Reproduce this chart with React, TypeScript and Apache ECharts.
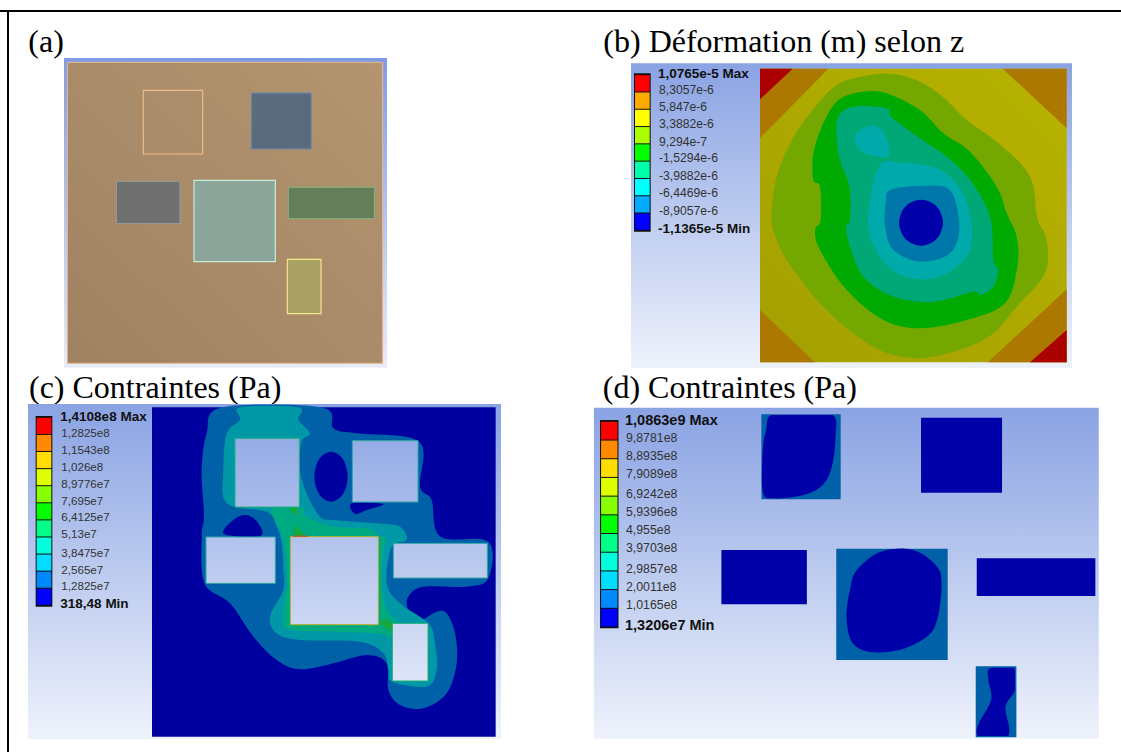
import React, { useEffect, useRef } from "react";
import * as echarts from "echarts";

// ---- texts ----
const titleA = "(a)";
const titleB = "(b) Déformation (m) selon z";
const titleC = "(c) Contraintes (Pa)";
const titleD = "(d) Contraintes (Pa)";

const labelsB = ["1,0765e-5 Max", "8,3057e-6", "5,847e-6", "3,3882e-6", "9,294e-7", "-1,5294e-6", "-3,9882e-6", "-6,4469e-6", "-8,9057e-6", "-1,1365e-5 Min"];
const labelsC = ["1,4108e8 Max", "1,2825e8", "1,1543e8", "1,026e8", "8,9776e7", "7,695e7", "6,4125e7", "5,13e7", "3,8475e7", "2,565e7", "1,2825e7", "318,48 Min"];
const labelsD = ["1,0863e9 Max", "9,8781e8", "8,8935e8", "7,9089e8", "6,9242e8", "5,9396e8", "4,955e8", "3,9703e8", "2,9857e8", "2,0011e8", "1,0165e8", "1,3206e7 Min"];

const labelYB = [190, 240, 292, 343, 395, 445, 497, 549, 602, 655];
const labelYC = [138, 188, 238, 288, 340, 390, 440, 490, 547, 597, 647, 700];
const labelYD = [150, 205, 259, 313, 371, 426, 481, 535, 597, 651, 706, 765];

const swatchB = ["#ff0000", "#ffaa00", "#ffff00", "#aaff00", "#00ff00", "#00ffaa", "#00ffff", "#00aaff", "#0000ff"];
const swatchCD = ["#ff0000", "#ff8a00", "#ffdd00", "#ddff00", "#88ff00", "#00ff00", "#00ff88", "#00ffdd", "#00ddff", "#0088ff", "#0000ff"];

// ---- contour outlines, in units of an enlarged view of each panel ----
type P = [number, number];
const rect = (x0: number, y0: number, x1: number, y1: number): P[] => [[x0, y0], [x1, y0], [x1, y1], [x0, y1]];
const ellipse = (cx: number, cy: number, rx: number, ry: number): P[] =>
  [0, 45, 90, 135, 180, 225, 270, 315].map((a) => [cx + rx * Math.cos((a * Math.PI) / 180), cy + ry * Math.sin((a * Math.PI) / 180)] as P);

// rounds an outline (closed Catmull-Rom curve through the read points)
const round = (pts: P[]): P[] => {
  const out: P[] = [];
  const n = pts.length;
  for (let i = 0; i < n; i++) {
    const [a, b, c, d] = [pts[(i - 1 + n) % n], pts[i], pts[(i + 1) % n], pts[(i + 2) % n]];
    for (let k = 0; k < 6; k++) {
      const t = k / 6;
      const f = (j: 0 | 1) =>
        0.5 * (2 * b[j] + (c[j] - a[j]) * t + (2 * a[j] - 5 * b[j] + 4 * c[j] - d[j]) * t * t + (3 * b[j] - a[j] - 3 * c[j] + d[j]) * t * t * t);
      out.push([f(0), f(1)]);
    }
  }
  return out;
};
const clampTo = (pts: P[], x0: number, y0: number, x1: number, y1: number): P[] =>
  pts.map(([x, y]) => [Math.min(x1, Math.max(x0, x)), Math.min(y1, Math.max(y0, y))] as P);

const bCornerOrange: P[][] = [
  [[480, 176], [685, 176], [480, 385]],
  [[1208, 176], [1400, 176], [1400, 355]],
  [[480, 900], [645, 1057], [480, 1057]],
  [[1400, 838], [1400, 1057], [1163, 1057]],
];
const bCornerRed: P[][] = [
  [[480, 176], [578, 176], [480, 268]],
  [[1400, 960], [1400, 1057], [1290, 1057]],
];
const bLightGreen: P[] = [[515, 600], [530, 500], [570, 400], [630, 310], [710, 225], [800, 197], [880, 192], [960, 215], [1030, 262], [1100, 330], [1190, 395], [1270, 470], [1300, 530], [1312, 625], [1340, 690], [1335, 790], [1250, 890], [1160, 985], [1000, 1040], [880, 1035], [780, 985], [660, 880], [560, 750], [520, 660]];
const bGreen: P[] = [[715, 270], [790, 245], [860, 250], [960, 300], [1030, 370], [1110, 425], [1190, 530], [1220, 610], [1250, 680], [1252, 770], [1215, 880], [1100, 930], [960, 955], [850, 930], [740, 840], [660, 720], [645, 660], [662, 630], [660, 530], [640, 510], [640, 430], [670, 340]];
const bTealGreen: P[] = [[715, 320], [760, 290], [860, 295], [875, 322], [960, 385], [1040, 440], [1110, 510], [1170, 620], [1180, 750], [1195, 780], [1180, 830], [1140, 855], [1120, 845], [1000, 875], [880, 860], [790, 800], [750, 710], [738, 650], [750, 630], [748, 530], [720, 450], [710, 380]];
const bTealSmall: P[] = [[770, 370], [810, 347], [850, 365], [868, 435], [820, 437], [780, 420], [765, 390]];
const bTeal: P[] = [[840, 465], [900, 458], [1010, 475], [1080, 535], [1115, 640], [1105, 730], [1040, 790], [960, 808], [870, 775], [810, 680], [808, 580]];
const bBlue: P[] = [[870, 540], [960, 528], [1050, 540], [1078, 650], [1050, 730], [960, 755], [880, 720], [855, 650], [857, 580]];

const cBand1: P[] = [[665, 112], [620, 190], [605, 300], [612, 440], [605, 495], [613, 640], [690, 700], [760, 800], [830, 870], [900, 898], [1000, 880], [1100, 855], [1160, 880], [1165, 960], [1200, 1005], [1270, 1015], [1340, 970], [1370, 880], [1365, 790], [1340, 730], [1310, 725], [1260, 750], [1225, 720], [1225, 680], [1270, 650], [1400, 650], [1465, 625], [1465, 515], [1320, 500], [1295, 390], [1260, 350], [1258, 215], [1070, 190], [1000, 175], [965, 112]];
const cIslands: P[][] = [
  ellipse(993, 320, 50, 75),
  [[672, 492], [700, 450], [740, 435], [775, 460], [780, 498]],
  [[1055, 400], [1150, 402], [1100, 420], [1065, 432]],
];
const cBand2: P[] = [[720, 112], [720, 150], [680, 190], [670, 300], [680, 400], [800, 425], [830, 470], [845, 520], [850, 600], [850, 660], [810, 740], [830, 790], [900, 810], [1080, 815], [1150, 850], [1165, 900], [1177, 935], [1280, 950], [1310, 900], [1305, 820], [1285, 760], [1200, 700], [1160, 640], [1175, 530], [1220, 510], [1200, 470], [1130, 460], [1000, 450], [960, 440], [920, 370], [900, 300], [905, 215], [930, 190], [895, 150], [895, 112]];
const cBand3: P[] = [[815, 415], [905, 413], [920, 440], [1000, 470], [1100, 475], [1135, 495], [1160, 510], [1150, 540], [1145, 640], [1160, 720], [1190, 755], [1177, 800], [1130, 790], [1000, 785], [880, 780], [850, 760], [855, 680], [862, 640], [855, 540], [840, 480]];
const cGreenSpots: P[][] = [
  [[868, 413], [895, 413], [885, 438]],
  [[880, 497], [888, 465], [915, 497]],
  [[1140, 760], [1155, 745], [1177, 762], [1177, 785]],
];
const cHoles: [number, number, number, number, string][] = [
  [705, 205, 898, 411, "#20b080"],
  [1057, 212, 1254, 396, "#30a8a8"],
  [618, 501, 826, 640, "#30a8a8"],
  [871, 500, 1135, 764, "#b8b020"],
  [1180, 520, 1462, 624, "#30a8a8"],
  [1177, 760, 1284, 933, "#20b070"],
];

const dInner1: P[] = [[545, 135], [635, 135], [725, 135], [733, 200], [722, 290], [695, 345], [640, 375], [550, 385], [520, 365], [520, 240], [530, 180]];
const dInner2: P[] = [[865, 545], [960, 540], [1030, 590], [1043, 650], [1030, 750], [1000, 800], [920, 840], [830, 845], [780, 815], [765, 740], [775, 660], [795, 600]];
const dInner3: P[] = [[1185, 895], [1255, 893], [1258, 960], [1230, 1010], [1238, 1098], [1150, 1098], [1152, 1060], [1188, 990], [1180, 930]];

type Item =
  | { pts: P[]; fill: any; stroke?: string; lw?: number }
  | { text: string; x: number; y: number; font: string; size: number; weight?: string; color?: string };

const vgrad = (a: string, b: string) => new echarts.graphic.LinearGradient(0, 0, 0, 1, [{ offset: 0, color: a }, { offset: 1, color: b }]);
const dgrad = (a: string, b: string) => new echarts.graphic.LinearGradient(0, 1, 1, 0, [{ offset: 0, color: a }, { offset: 1, color: b }]);

const hex = (c: number[]) => "#" + c.map((v) => Math.round(v).toString(16).padStart(2, "0")).join("");
const bgTop = [0x8a, 0xa3, 0xe3];
const bgBot = [0xee, 0xf2, 0xfb];
const bgAt = (t: number) => hex(bgTop.map((v, i) => v + (bgBot[i] - v) * t));

const serif = "Liberation Serif";
const sans = "Liberation Sans";
const titleSize = 32;

function legend(labels: string[], ys: number[], colors: string[], sx0: number, sx1: number, tx: number, size: number, boldSize: number): Item[] {
  const out: Item[] = [];
  const top = ys[0] + 4;
  const bot = ys[ys.length - 1] + 6;
  const h = (bot - top) / colors.length;
  out.push({ pts: rect(sx0 - 3, top - 4, sx1 + 3, bot + 4), fill: "#101010" });
  colors.forEach((c, i) => {
    out.push({ pts: rect(sx0, top + h * i + 1.5, sx1, top + h * (i + 1) - 1.5), fill: c });
  });
  labels.forEach((t, i) => {
    const strong = i === 0 || i === labels.length - 1;
    out.push({
      text: t,
      x: strong ? tx - 3 : tx,
      y: ys[i],
      font: sans,
      size: strong ? boldSize : size,
      weight: strong ? "bold" : "normal",
      color: strong ? "#111111" : "#333333",
    });
  });
  return out;
}

const itemsA: Item[] = [
  { text: titleA, x: 85, y: 124, font: serif, size: titleSize, color: "#000000" },
  { pts: rect(192, 174, 1161, 1103), fill: vgrad("#7f9be4", "#e8ecf8") },
  { pts: rect(202, 187, 1148, 1090), fill: dgrad("#a08263", "#b49570"), stroke: "#eabb90", lw: 1 },
  { pts: rect(430, 271, 608, 462), fill: "rgba(0,0,0,0)", stroke: "#ecbb88", lw: 1.2 },
  { pts: rect(754, 279, 934, 447), fill: "#5a6b7d", stroke: "#6a8bb0", lw: 1 },
  { pts: rect(349, 544, 540, 671), fill: "#707070", stroke: "#9a9f9f", lw: 1 },
  { pts: rect(582, 541, 826, 785), fill: "#8ca69b", stroke: "#c8ebdc", lw: 1.2 },
  { pts: rect(865, 562, 1123, 656), fill: "#637e58", stroke: "#80b67c", lw: 1 },
  { pts: rect(862, 778, 963, 941), fill: "#aaa165", stroke: "#f0e68c", lw: 1.2 },
];

const itemsB: Item[] = [
  { text: titleB, x: 10, y: 94, font: serif, size: titleSize, color: "#000000" },
  { pts: rect(93, 160, 1416, 1074), fill: vgrad("#8aa3e3", "#eef2fb") },
  { pts: rect(480, 176, 1400, 1057), fill: dgrad("#a39f00", "#b8b300") },
  ...bCornerOrange.map((pts) => ({ pts, fill: "#ad7800" })),
  ...bCornerRed.map((pts) => ({ pts, fill: "#aa0000" })),
  { pts: round(bLightGreen), fill: "#74a800" },
  { pts: round(bGreen), fill: "#00aa00" },
  { pts: round(bTealGreen), fill: "#00a877" },
  { pts: round(bTealSmall), fill: "#00aaaa" },
  { pts: round(bTeal), fill: "#00aaaa" },
  { pts: round(bBlue), fill: "#0077aa" },
  { pts: round(ellipse(963, 638, 66, 69)), fill: "#0000aa" },
  ...legend(labelsB, labelYB, swatchB, 105, 149, 177, 12.2, 13.5),
];

const itemsC: Item[] = [
  { text: titleC, x: 87, y: 52, font: serif, size: titleSize, color: "#000000" },
  { pts: rect(84, 102, 1503, 1108), fill: vgrad("#8aa3e3", "#eef2fb") },
  { pts: rect(456, 112, 1487, 1100), fill: "#0000a0" },
  { pts: round(cBand1), fill: "#0060a8" },
  ...cIslands.map((pts) => ({ pts: round(pts), fill: "#0000a0" })),
  { pts: round(cBand2), fill: "#0098a6" },
  { pts: round(cBand3), fill: "#00aa80" },
  ...cGreenSpots.map((pts) => ({ pts, fill: "#18a838" })),
  ...cHoles.map(([x0, y0, x1, y1, s]) => ({
    pts: rect(x0, y0, x1, y1),
    fill: vgrad(bgAt((y0 - 102) / 1006), bgAt((y1 - 102) / 1006)),
    stroke: s,
    lw: 1,
  })),
  { pts: rect(878, 497, 925, 500), fill: "#c84020" },
  ...legend(labelsC, labelYC, swatchCD, 110, 154, 184, 11.6, 13.5),
];

const itemsD: Item[] = [
  { text: titleD, x: 52, y: 52, font: serif, size: titleSize, color: "#000000" },
  { pts: rect(26, 113, 1503, 1106), fill: vgrad("#8aa3e3", "#eef2fb") },
  { pts: rect(983, 143, 1220, 368), fill: "#0000a8" },
  { pts: rect(399, 540, 649, 703), fill: "#0000a8" },
  { pts: rect(1146, 565, 1493, 678), fill: "#0000a8" },
  { pts: rect(516, 133, 748, 388), fill: "#0060a8" },
  { pts: clampTo(round(dInner1), 516, 135, 748, 386), fill: "#0000a8" },
  { pts: rect(735, 536, 1061, 870), fill: "#0060a8" },
  { pts: round(dInner2), fill: "#0000a8" },
  { pts: rect(1143, 889, 1262, 1102), fill: "#0060a8" },
  { pts: clampTo(round(dInner3), 1146, 893, 1258, 1098), fill: "#0000a8" },
  ...legend(labelsD, labelYD, swatchCD, 47, 95, 120, 12.3, 14.5),
];

const panels = [
  { left: 0, top: 0, w: 400, h: 375, xmax: 1200, items: itemsA },
  { left: 600, top: 10, w: 521, h: 365, xmax: 1563, items: itemsB },
  { left: 0, top: 370, w: 510, h: 382, xmax: 1530, items: itemsC },
  { left: 585, top: 370, w: 536, h: 382, xmax: 1568, items: itemsD },
];

const renderItem = (items: Item[]) => (params: any, api: any) => {
  const it: any = items[params.dataIndex];
  if (it.text) {
    const p = api.coord([it.x, it.y]);
    return {
      type: "text",
      x: p[0],
      y: p[1],
      style: {
        text: it.text,
        fontFamily: it.font,
        fontSize: it.size,
        fontWeight: it.weight || "normal",
        fill: it.color,
        textAlign: "left",
        textVerticalAlign: "middle",
      },
    };
  }
  return {
    type: "polygon",
    shape: { points: it.pts.map((q: P) => api.coord(q)) },
    style: { fill: it.fill, stroke: it.stroke || undefined, lineWidth: it.lw || 0 },
  };
};

export default function App() {
  const ref = useRef<HTMLDivElement>(null);
  useEffect(() => {
    document.body.style.margin = "0";
    const chart = echarts.init(ref.current!, undefined, { renderer: "svg" });
    chart.setOption({
      animation: false,
      backgroundColor: "#ffffff",
      grid: panels.map((p) => ({ left: p.left, top: p.top, width: p.w, height: p.h })),
      xAxis: panels.map((p, i) => ({ type: "value", gridIndex: i, min: 0, max: p.xmax, show: false })),
      yAxis: panels.map((p, i) => ({ type: "value", gridIndex: i, min: 0, max: p.h * 3, inverse: true, show: false })),
      series: panels.map((p, i) => ({
        type: "custom",
        xAxisIndex: i,
        yAxisIndex: i,
        silent: true,
        clip: false,
        renderItem: renderItem(p.items),
        data: p.items.map((_, k) => [k, k]),
      })),
      graphic: [
        { type: "rect", shape: { x: 0, y: 10, width: 1121, height: 2 }, style: { fill: "#000000" } },
        { type: "rect", shape: { x: 7, y: 10, width: 2, height: 742 }, style: { fill: "#000000" } },
      ],
    });
    return () => chart.dispose();
  }, []);
  return <div ref={ref} style={{ width: 1121, height: 752, position: "absolute", left: 0, top: 0 }} />;
}
